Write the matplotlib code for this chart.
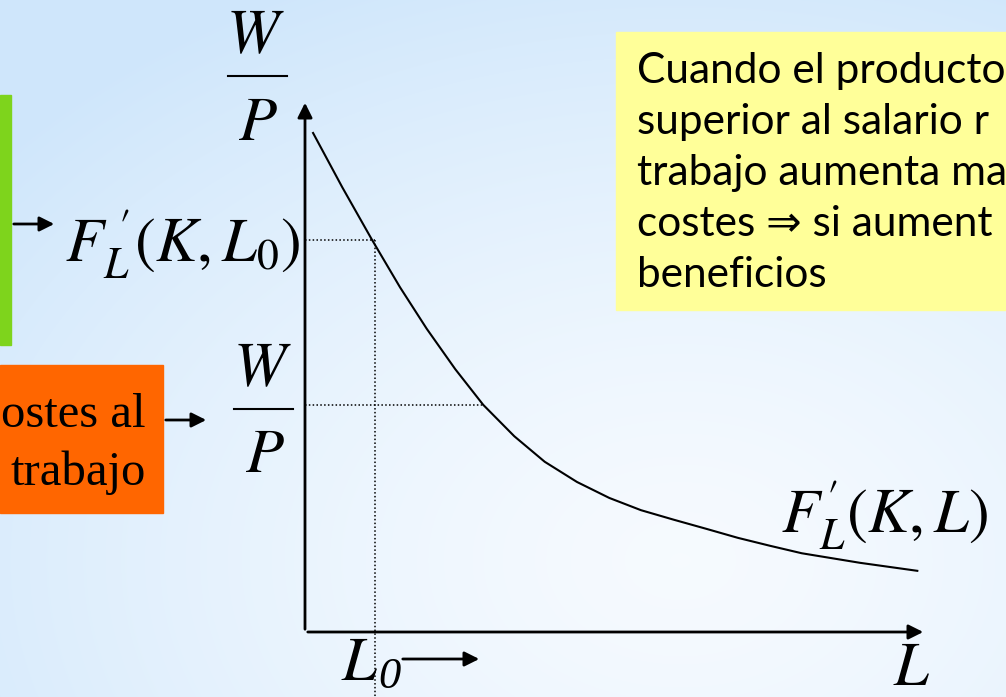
import matplotlib.pyplot as plt
import numpy as np

# curve F'_L(K, L) (L, W/P in 0..10 units)
L_vals = [0.13, 0.60, 1.08, 1.53, 1.96, 2.42, 2.87, 3.37, 3.86, 4.38,
          4.90, 5.41, 5.94, 6.46, 6.97, 7.49, 8.00, 8.94, 9.86]
mpl_vals = [9.38, 8.36, 7.37, 6.48, 5.70, 4.94, 4.27, 3.68, 3.20, 2.82,
            2.52, 2.29, 2.11, 1.94, 1.77, 1.62, 1.48, 1.30, 1.15]

L0 = 1.13          # initial employment
mpl_L0 = 7.37      # F'_L(K, L0)
L_real = 2.87      # where W/P meets the curve
w_real = 4.27      # real wage W/P

box_lines = ["Cuando el producto", "superior al salario r", "trabajo aumenta ma",
             "costes \u21d2 si aument", "beneficios"]
orange_lines = ["ostes al", "trabajo"]

plt.rcParams['mathtext.fontset'] = 'stix'

W, H = 1006, 697
fig = plt.figure(figsize=(W / 100, H / 100), dpi=100)

# background layer in pixel coordinates
bg = fig.add_axes([0, 0, 1, 1])
bg.set_xlim(0, W)
bg.set_ylim(H, 0)
bg.axis('off')

yy, xx = np.mgrid[0:H, 0:W]
d = np.sqrt((xx - 680) ** 2 + (1.4 * (yy - 560)) ** 2) / 880
t = np.clip(d, 0, 1) ** 1.4
light = np.array([0.965, 0.982, 1.0])
dark = np.array([0.815, 0.905, 0.985])
img = light[None, None, :] * (1 - t[..., None]) + dark[None, None, :] * t[..., None]
bg.imshow(img, extent=(0, W, H, 0), aspect='auto', zorder=0)

# coloured boxes
bg.add_patch(plt.Rectangle((0, 95), 11, 250, color='#7ED41C', zorder=1))
bg.add_patch(plt.Rectangle((0, 365), 163, 148, color='#FF6600', zorder=1))
bg.add_patch(plt.Rectangle((616, 32), 400, 278, color='#FFFF99', zorder=1))

for i, line in enumerate(orange_lines):
    bg.text(146, 427 + 58 * i, line, ha='right', va='baseline', fontsize=35,
            family='Liberation Serif', zorder=2)

for i, line in enumerate(box_lines):
    bg.text(637, 83 + 51 * i, line, ha='left', va='baseline', fontsize=30.5,
            family=['Lato', 'DejaVu Sans'], zorder=2, clip_on=True)

arrow = dict(arrowstyle='-|>', lw=2, color='black', mutation_scale=22)
bg.annotate('', xy=(57, 224), xytext=(11, 224), arrowprops=arrow, zorder=3)
bg.annotate('', xy=(209, 420), xytext=(163, 420), arrowprops=arrow, zorder=3)
bg.annotate('', xy=(482, 659), xytext=(400, 659), arrowprops=arrow, zorder=3)

# axis labels
fs = 45
bg.text(255, 53, r'$W$', ha='center', va='baseline', fontsize=fs, zorder=2)
bg.plot([228, 287], [76, 76], color='black', lw=1.5, zorder=2)
bg.text(258, 140, r'$P$', ha='center', va='baseline', fontsize=fs, zorder=2)

bg.text(262, 386, r'$W$', ha='center', va='baseline', fontsize=fs, zorder=2)
bg.plot([234, 293], [409, 409], color='black', lw=1.5, zorder=2)
bg.text(265, 472, r'$P$', ha='center', va='baseline', fontsize=fs, zorder=2)

bg.text(301, 262, r"$F_L^{\;\prime}(K,L_0)$", ha='right', va='baseline', fontsize=fs, zorder=2)
bg.text(781, 533, r"$F_L'(K,L)$", ha='left', va='baseline', fontsize=fs, zorder=2)
bg.text(341, 680, r'$L$', ha='left', va='baseline', fontsize=fs, zorder=2)
bg.text(378, 688, '0', ha='left', va='baseline', fontsize=32,
        family='Liberation Serif', style='italic', zorder=2)
bg.text(912, 685, r'$L$', ha='center', va='baseline', fontsize=fs, zorder=2)

# the diagram itself
ax = fig.add_axes([305 / W, (H - 632) / H, (926 - 305) / W, (632 - 100) / H])
ax.set_xlim(0, 10)
ax.set_ylim(0, 10)
ax.axis('off')
ax.patch.set_alpha(0)

ax.annotate('', xy=(0, 10), xytext=(0, 0), arrowprops=arrow, annotation_clip=False)
ax.annotate('', xy=(10, 0), xytext=(0, 0), arrowprops=arrow, annotation_clip=False)

ax.plot(L_vals, mpl_vals, color='black', lw=1.5, clip_on=False)

dots = dict(color='black', lw=1.1, linestyle=(0, (1, 1.5)), clip_on=False)
ax.plot([0, L0], [mpl_L0, mpl_L0], **dots)
ax.plot([L0, L0], [mpl_L0, -1.3], **dots)
ax.plot([0, L_real], [w_real, w_real], **dots)

fig.savefig('out.png', dpi=100)
plt.close(fig)
